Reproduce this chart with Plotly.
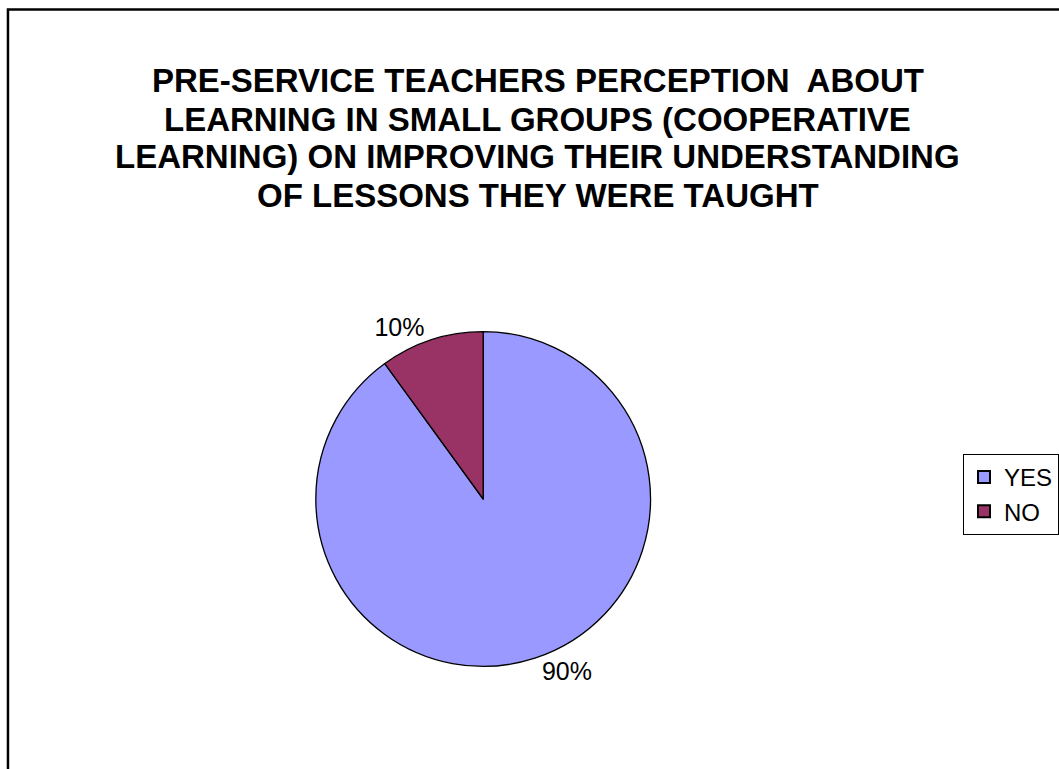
import plotly.graph_objects as go

# Survey responses (percent of pre-service teachers)
labels = ["YES", "NO"]
values = [90, 10]
colors = ["#9999FF", "#993366"]

title_lines = [
    "PRE-SERVICE TEACHERS PERCEPTION  ABOUT",
    "LEARNING IN SMALL GROUPS (COOPERATIVE",
    "LEARNING) ON IMPROVING THEIR UNDERSTANDING",
    "OF LESSONS THEY WERE TAUGHT",
]

W, H = 1059, 769
cx, cy, r = 485, 499, 168
FONT = "Liberation Sans, Arial"

fig = go.Figure(
    go.Pie(
        labels=labels,
        values=values,
        sort=False,
        direction="clockwise",
        rotation=0,
        marker=dict(colors=colors, line=dict(color="black", width=1.3)),
        textposition="outside",
        texttemplate="%{percent:.0%}",
        textfont=dict(family=FONT, size=25, color="black"),
        domain=dict(x=[(cx - r) / W, (cx + r) / W], y=[1 - (cy + r) / H, 1 - (cy - r) / H]),
        hoverinfo="label+percent",
    )
)

annotations = []
for i, line in enumerate(title_lines):
    annotations.append(
        dict(
            text=f"<b>{line}</b>",
            x=540 / W,
            y=1 - (81 + 38 * i) / H,
            xref="paper",
            yref="paper",
            xanchor="center",
            yanchor="middle",
            showarrow=False,
            font=dict(family=FONT, size=33, color="black"),
        )
    )

fig.update_layout(
    width=W,
    height=H,
    margin=dict(l=0, r=0, t=0, b=0),
    paper_bgcolor="white",
    plot_bgcolor="white",
    annotations=annotations,
    shapes=[
        dict(
            type="rect",
            xref="paper",
            yref="paper",
            x0=8 / W,
            x1=1.01,
            y0=-0.01,
            y1=1 - 9.5 / H,
            line=dict(color="black", width=2.5),
        )
    ],
    legend=dict(
        x=967 / W,
        y=1 - 454 / H,
        xanchor="left",
        yanchor="top",
        bordercolor="black",
        borderwidth=1,
        bgcolor="white",
        font=dict(family=FONT, size=24, color="black"),
        itemsizing="constant",
        tracegroupgap=0,
    ),
)

fig.write_html("out.html")
